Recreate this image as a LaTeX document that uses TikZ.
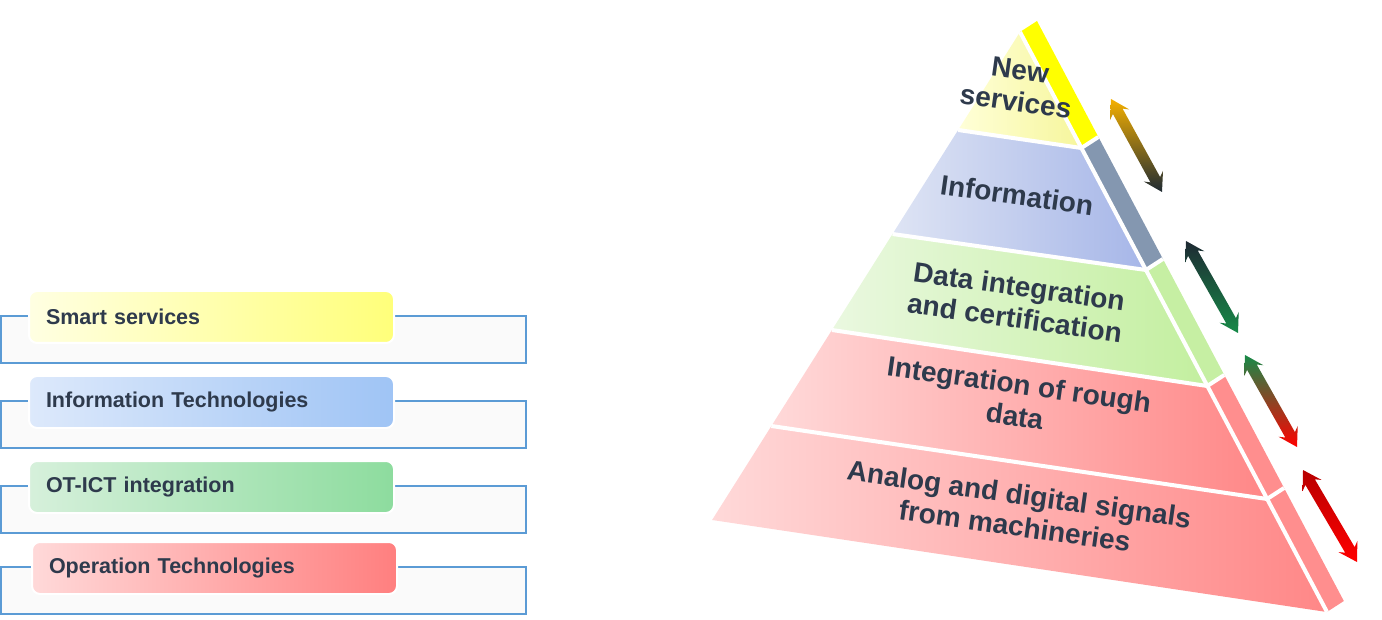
\documentclass[tikz,border=0pt]{standalone}
\usepackage{fontspec}
\setmainfont{Liberation Sans}
\usepackage{tikz}
\usetikzlibrary{positioning,calc}

\definecolor{textdark}{HTML}{2E3A4C}
\definecolor{boxline}{HTML}{5B9BD5}
\definecolor{boxbg}{HTML}{FAFAFA}
\definecolor{smartL}{HTML}{FFFFE2}
\definecolor{smartR}{HTML}{FFFF7A}
\definecolor{itL}{HTML}{DDE9FB}
\definecolor{itR}{HTML}{9FC4F5}
\definecolor{otL}{HTML}{D6F0DB}
\definecolor{otR}{HTML}{8DDC9E}
\definecolor{opL}{HTML}{FFD9D9}
\definecolor{opR}{HTML}{FF7F7F}
\definecolor{newL}{HTML}{FFFFD8}
\definecolor{newR}{HTML}{F6F69C}
\definecolor{newS}{HTML}{FFFF00}
\definecolor{infL}{HTML}{DEE4F4}
\definecolor{infR}{HTML}{A6B6E8}
\definecolor{infS}{HTML}{8497B0}
\definecolor{datL}{HTML}{EAF8E0}
\definecolor{datR}{HTML}{C3EF9F}
\definecolor{datS}{HTML}{C6EFA3}
\definecolor{redL}{HTML}{FFD9D9}
\definecolor{redR}{HTML}{FF8787}
\definecolor{redS}{HTML}{FF8E8E}
\definecolor{arGold}{HTML}{F5B000}
\definecolor{arDark}{HTML}{1E2A33}
\definecolor{arGreen}{HTML}{178A48}
\definecolor{arRed}{HTML}{FF0000}
\definecolor{arDarkRed}{HTML}{B80000}

% one slice of the pyramid:
% #1,#2 top y (left, right), #3,#4 bottom y (left, right), #5/#6 front colours, #7 side colour
\newcommand{\pyrband}[7]{
  \pgfmathsetmacro{\xa}{\apx-\kl*(#1-\apy)}
  \pgfmathsetmacro{\xb}{\apx+\kr*(#2-\apy)}
  \pgfmathsetmacro{\xc}{\apx+\kr*(#4-\apy)}
  \pgfmathsetmacro{\xd}{\apx-\kl*(#3-\apy)}
  \shade[left color=#5, right color=#6] (\xa,#1) -- (\xb,#2) -- (\xc,#4) -- (\xd,#3) -- cycle;
  \fill[#7] (\xb,#2) -- ++(17,-11) -- (\xc+17,#4-11) -- (\xc,#4) -- cycle;
}
% white cut between two slices
\newcommand{\pyrsep}[2]{
  \pgfmathsetmacro{\xa}{\apx-\kl*(#1-\apy)}
  \pgfmathsetmacro{\xb}{\apx+\kr*(#2-\apy)}
  \draw[sepline] (\xa,#1) -- (\xb,#2) -- ++(17,-11);
}
% double headed arrow, shaded from top to bottom
\newcommand{\shadearrow}[4]{
  \shade[top color=#3, bottom color=#4]
    (#1) -- ($(#1)!18pt!(#2)!11pt!90:(#2)$) -- ($(#1)!14pt!(#2)!5.5pt!90:(#2)$)
    -- ($(#2)!14pt!(#1)!5.5pt!-90:(#1)$) -- ($(#2)!18pt!(#1)!11pt!-90:(#1)$)
    -- (#2) -- ($(#2)!18pt!(#1)!11pt!90:(#1)$) -- ($(#2)!14pt!(#1)!5.5pt!90:(#1)$)
    -- ($(#1)!14pt!(#2)!5.5pt!-90:(#2)$) -- ($(#1)!18pt!(#2)!11pt!-90:(#2)$) -- cycle;
}

\begin{document}
\begin{tikzpicture}[x=1pt,y=-1pt,
  outerbox/.style={draw=boxline, fill=boxbg, line width=1.2pt},
  labbox/.style={rounded corners=8pt, draw=white, line width=2pt, minimum width=365pt,
    minimum height=52pt, text width=331pt, inner xsep=17pt, align=left, anchor=north west,
    text=textdark, font=\fontsize{21.5}{25}\selectfont\bfseries},
  pyrtext/.style={text=textdark, align=center, rotate=-8, inner sep=0pt,
    font=\fontsize{28}{32}\selectfont\bfseries},
  sepline/.style={draw=white, line width=4pt}]
\useasboundingbox (0,0) rectangle (1382,620);
\def\apx{1020}
\def\apy{32}
\def\kl{0.631}
\def\kr{0.529}

% left: the four layers
\foreach \nm/\xx/\yy/\cl/\cr/\txt in {smart/28/290/smartL/smartR/Smart services,
    infotech/28/375/itL/itR/Information Technologies,
    otict/28/460/otL/otR/OT-ICT integration,
    optech/31/541/opL/opR/Operation Technologies} {
  \draw[outerbox] (1,\yy+26) rectangle (526,\yy+73);
  \node[labbox, left color=\cl, right color=\cr] (\nm) at (\xx,\yy) {\txt};
}

% pyramid slices, top to bottom
\pyrband{32}{32}{130}{148}{newL}{newR}{newS}
\pyrband{130}{148}{234}{270}{infL}{infR}{infS}
\pyrband{234}{270}{330}{386}{datL}{datR}{datS}
\pyrband{330}{386}{426}{499}{redL}{redR}{redS}
\pyrband{426}{499}{520}{612}{redL}{redR}{redS}
\draw[sepline] (\apx,\apy) -- (1327,612);
\foreach \yl/\yr in {130/148, 234/270, 330/386, 426/499} {
  \pyrsep{\yl}{\yr}
}

\node[pyrtext] (newsrv) at (1018,86) {New\\services};
\node[pyrtext] (inform) at (1017,195) {Information};
\node[pyrtext] (datint) at (1017,302) {Data integration\\and certification};
\node[pyrtext] (rough) at (1017,400) {Integration of rough\\data};
\node[pyrtext] (analog) at (1017,510) {Analog and digital signals\\from machineries};

% arrows beside the pyramid
\coordinate (ar1a) at (1111,99);
\coordinate (ar1b) at (1162,192);
\coordinate (ar2a) at (1186,241);
\coordinate (ar2b) at (1238,333);
\coordinate (ar3a) at (1245,355);
\coordinate (ar3b) at (1297,447);
\coordinate (ar4a) at (1303,470);
\coordinate (ar4b) at (1357,562);
\shadearrow{ar1a}{ar1b}{arGold}{arDark}
\shadearrow{ar2a}{ar2b}{arDark}{arGreen}
\shadearrow{ar3a}{ar3b}{arGreen}{arRed}
\shadearrow{ar4a}{ar4b}{arDarkRed}{arRed}
\end{tikzpicture}
\end{document}
